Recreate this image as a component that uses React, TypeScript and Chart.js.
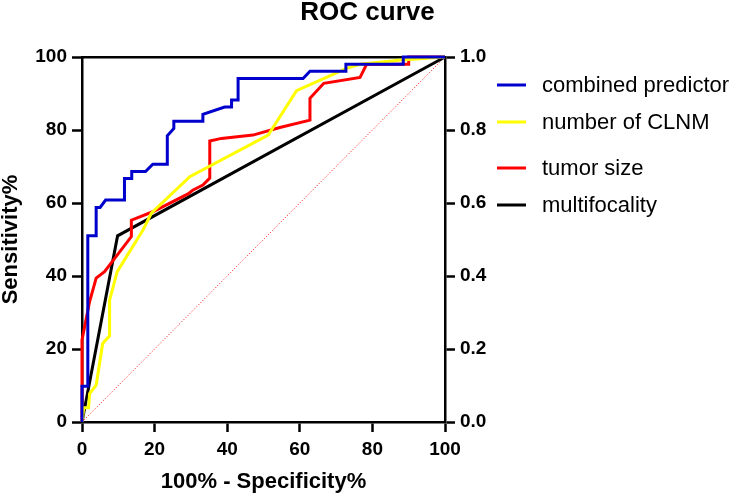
import React, { useEffect, useRef } from "react";
import { Chart, registerables } from "chart.js";

Chart.register(...registerables);

const FONT = "'Liberation Sans', Arial, Helvetica, sans-serif";

const seriesNames = ["combined predictor", "number of CLNM", "tumor size", "multifocality"];
const seriesColors = ["#0000CC", "#FFFF00", "#FF0000", "#000000"];

const combinedX = [0, 0, 1.6, 1.6, 3.9, 3.9, 5, 6.5, 11.7, 11.7, 13.7, 13.7, 17.5, 19.5, 23.5, 23.5, 25.3, 25.3, 33.3, 33.3, 39.3, 41.2, 41.2, 43, 43, 60.9, 62.8, 72.7, 72.7, 88.5, 88.5, 100];
const combinedY = [0, 9.8, 9.8, 51, 51, 58.8, 58.8, 60.8, 60.8, 66.7, 66.7, 68.6, 68.6, 70.6, 70.6, 78.4, 80.4, 82.4, 82.4, 84.3, 86.3, 86.3, 88.2, 88.2, 94.1, 94.1, 96.1, 96.1, 98, 98, 100, 100];

const clnmX = [0, 0.5, 1.8, 2.1, 3.9, 5.7, 7.6, 7.6, 9.7, 16.8, 19.1, 29.7, 51.3, 59.1, 72.9, 76.6, 88, 100];
const clnmY = [0, 3.9, 3.9, 7.8, 10.1, 21.5, 23.6, 33.4, 41.2, 52.6, 57.2, 67.2, 78.6, 90.8, 96.9, 98, 99.2, 100];

const tumorX = [0, 0, 2.1, 3.9, 6.2, 13.6, 13.6, 19.5, 29.2, 30.5, 33.3, 35.2, 35.2, 38.4, 47.1, 54.5, 62.8, 62.8, 66.6, 76.6, 78.4, 90, 90, 100];
const tumorY = [0, 22.5, 33, 39.4, 41.2, 50.8, 55.3, 57.6, 62.5, 63.5, 64.9, 66.8, 77, 77.7, 78.6, 80.7, 82.7, 88.7, 92.8, 94.4, 98, 98, 100, 100];

const multiX = [0, 9.8, 100];
const multiY = [0, 51, 100];

const refX = [0, 100];
const refY = [0, 100];

const xTicks = [0, 20, 40, 60, 80, 100];
const yTicks = [0, 20, 40, 60, 80, 100];
const y2Ticks = [0, 0.2, 0.4, 0.6, 0.8, 1.0];

const zip = (xs: number[], ys: number[]) => xs.map((x, i) => ({ x, y: ys[i] }));

const legendRowsY = [85, 122, 168, 205];

const legendPlugin = {
  id: "customLegend",
  afterDraw(chart: any) {
    const ctx = chart.ctx;
    ctx.save();
    ctx.font = `22px ${FONT}`;
    ctx.textBaseline = "middle";
    ctx.textAlign = "left";
    seriesNames.forEach((name, i) => {
      const y = legendRowsY[i];
      ctx.strokeStyle = seriesColors[i];
      ctx.lineWidth = 3;
      ctx.beginPath();
      ctx.moveTo(497, y);
      ctx.lineTo(526, y);
      ctx.stroke();
      ctx.fillStyle = "#000";
      ctx.fillText(name, 542, y + 1);
    });
    ctx.restore();
  },
};

export default function App() {
  const ref = useRef<HTMLCanvasElement | null>(null);
  useEffect(() => {
    if (!ref.current) return;
    const tickFont = { family: FONT, size: 19, weight: "bold" as const };
    const gridCommon = {
      drawOnChartArea: false,
      drawTicks: true,
      tickLength: 10,
      tickWidth: 2.5,
      color: "#000",
    };
    const border = { display: true, width: 2.5, color: "#000" };
    const chart = new Chart(ref.current, {
      type: "line",
      data: {
        datasets: [
          { label: seriesNames[0], data: zip(combinedX, combinedY), borderColor: seriesColors[0], borderWidth: 3, pointRadius: 0, tension: 0, clip: false as any },
          { label: seriesNames[1], data: zip(clnmX, clnmY), borderColor: seriesColors[1], borderWidth: 3, pointRadius: 0, tension: 0, clip: false as any },
          { label: seriesNames[2], data: zip(tumorX, tumorY), borderColor: seriesColors[2], borderWidth: 3, pointRadius: 0, tension: 0, clip: false as any },
          { label: seriesNames[3], data: zip(multiX, multiY), borderColor: seriesColors[3], borderWidth: 3, pointRadius: 0, tension: 0, clip: false as any },
          { label: "reference", data: zip(refX, refY), borderColor: "#FF0000", borderWidth: 1, borderDash: [1, 2], pointRadius: 0, tension: 0 },
        ],
      },
      options: {
        animation: false,
        responsive: false,
        devicePixelRatio: 1,
        layout: { padding: 0 },
        plugins: {
          legend: { display: false },
          tooltip: { enabled: false },
          title: {
            display: true,
            text: "ROC curve",
            color: "#000",
            font: { family: FONT, size: 26, weight: "bold", lineHeight: 1 },
            padding: { top: 0, bottom: 31 },
          },
        },
        scales: {
          x: {
            type: "linear",
            position: "bottom",
            min: 0,
            max: 100,
            afterBuildTicks: (s: any) => { s.ticks = xTicks.map((v) => ({ value: v })); },
            afterFit: (s: any) => { s.height = 74; },
            ticks: { font: tickFont, color: "#000", padding: 6, maxRotation: 0, autoSkip: false },
            grid: gridCommon,
            border,
            title: {
              display: true,
              text: "100% - Specificity%",
              color: "#000",
              font: { family: FONT, size: 22, weight: "bold", lineHeight: 1 },
              padding: { top: 0, bottom: 3 },
            },
          },
          xTop: {
            type: "linear",
            position: "top",
            min: 0,
            max: 100,
            afterFit: (s: any) => { s.height = 0; },
            ticks: { display: false },
            grid: { display: true, drawOnChartArea: false, drawTicks: false, color: "#000" },
            border,
          },
          y: {
            type: "linear",
            position: "left",
            min: 0,
            max: 100,
            afterBuildTicks: (s: any) => { s.ticks = yTicks.map((v) => ({ value: v })); },
            afterFit: (s: any) => { s.width = 82; },
            ticks: { font: tickFont, color: "#000", padding: 5, autoSkip: false },
            grid: gridCommon,
            border,
            title: {
              display: true,
              text: "Sensitivity%",
              color: "#000",
              font: { family: FONT, size: 22, weight: "bold", lineHeight: 1 },
              padding: { top: 0, bottom: 0 },
            },
          },
          y2: {
            type: "linear",
            position: "right",
            min: 0,
            max: 1,
            afterBuildTicks: (s: any) => { s.ticks = y2Ticks.map((v) => ({ value: v })); },
            afterFit: (s: any) => { s.width = 290; },
            ticks: { font: tickFont, color: "#000", padding: 5, autoSkip: false, callback: (v: any) => Number(v).toFixed(1) },
            grid: gridCommon,
            border,
          },
        },
      } as any,
      plugins: [legendPlugin],
    });
    return () => chart.destroy();
  }, []);
  return (
    <div style={{ position: "absolute", left: 0, top: 0, width: 735, height: 496, background: "#fff" }}>
      <canvas ref={ref} width={735} height={496} style={{ display: "block" }} />
    </div>
  );
}
